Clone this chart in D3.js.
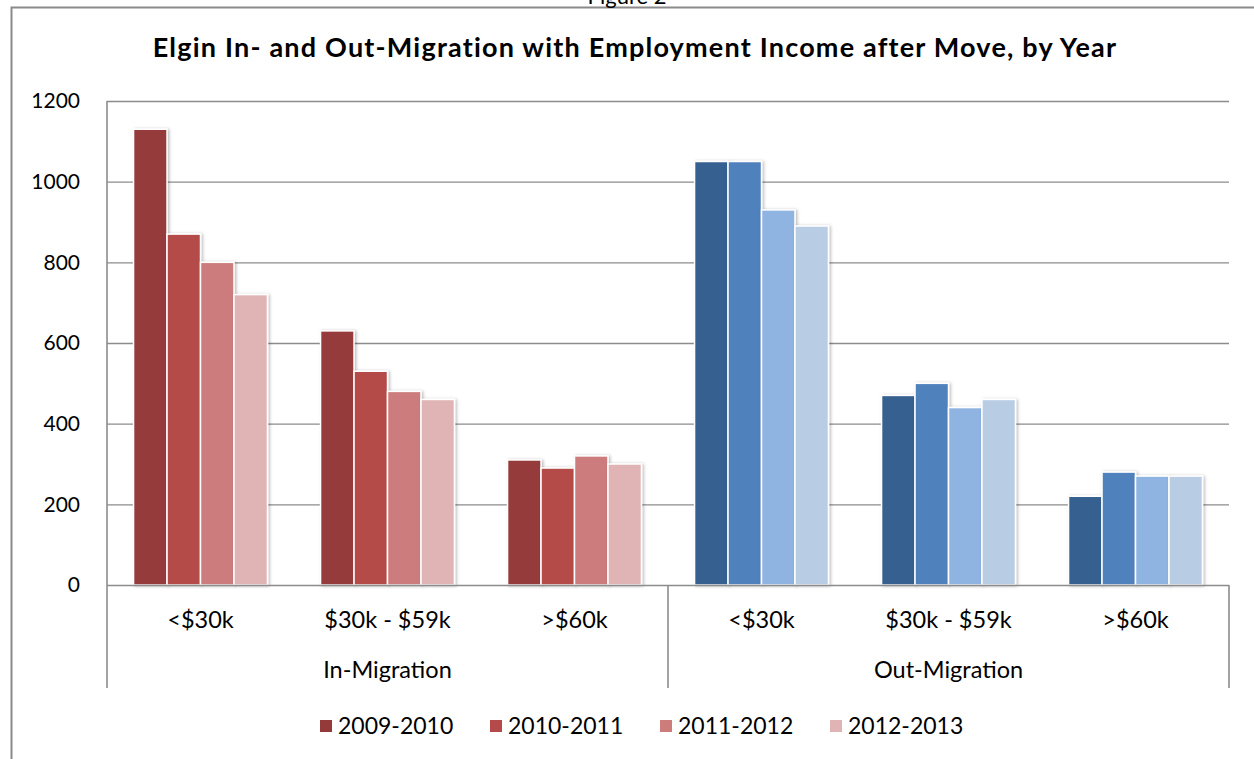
<!DOCTYPE html>
<html>
<head>
<meta charset="utf-8">
<script src="https://cdn.jsdelivr.net/npm/d3@7"></script>
<style>
  html, body { margin: 0; padding: 0; background: #fff; }
  svg { display: block; font-family: Lato, "Open Sans", sans-serif; }
</style>
</head>
<body>
<svg id="chart" width="1254" height="759"></svg>
<script>
// Income bands shown under each migration direction
const incomeBands = ["<$30k", "$30k - $59k", ">$60k"];
const directions = ["In-Migration", "Out-Migration"];
const years = ["2009-2010", "2010-2011", "2011-2012", "2012-2013"];

// Movers per year, one array per income band
const inMigration = [
  [1130, 870, 800, 720],
  [630, 530, 480, 460],
  [310, 290, 320, 300]
];
const outMigration = [
  [1050, 1050, 930, 890],
  [470, 500, 440, 460],
  [220, 280, 270, 270]
];

const yTicks = [0, 200, 400, 600, 800, 1000, 1200];

const redShades = ["#953a3a", "#b44b4a", "#cc7c7b", "#e0b4b4"];
const blueShades = ["#36618f", "#4f81bd", "#8fb4e2", "#b8cce4"];

const svg = d3.select("#chart");
const plotLeft = 107, plotRight = 1229, plotTop = 101, plotBase = 585, axisBottom = 688;

// Rows: one per direction/band pair
const rows = [];
directions.forEach((dir, di) => {
  const src = di === 0 ? inMigration : outMigration;
  incomeBands.forEach((band, bi) => {
    rows.push({ key: dir + "|" + band, dir, band, values: src[bi], colors: di === 0 ? redShades : blueShades });
  });
});

const x0 = d3.scaleBand().domain(rows.map(r => r.key)).range([plotLeft, plotRight]).padding(0);
const bw = x0.bandwidth();
const x1 = d3.scaleBand().domain(years).range([bw * 0.142, bw * 0.858]).padding(0);
const y = d3.scaleLinear().domain([0, 1200]).range([plotBase, plotTop]);

// Drop shadow behind bars
const defs = svg.append("defs");
const f = defs.append("filter").attr("id", "shadow").attr("x", "-20%").attr("y", "-10%").attr("width", "140%").attr("height", "120%");
f.append("feDropShadow").attr("dx", 1.5).attr("dy", 0.5).attr("stdDeviation", 1.8)
  .attr("flood-color", "#000").attr("flood-opacity", 0.28);

// Outer frame
svg.append("path").attr("d", `M11.5,759 V7.5 H1254`).attr("fill", "none")
  .attr("stroke", "#8a8a8a").attr("stroke-width", 2);

// Caption above the frame (runs off the top edge of the page)
svg.append("text").attr("x", 627).attr("y", 4).attr("text-anchor", "middle")
  .attr("font-size", 22).attr("fill", "#000").text("Figure 2");

// Title
svg.append("text").attr("x", 635).attr("y", 57).attr("text-anchor", "middle")
  .attr("font-size", 27).attr("font-weight", "bold").attr("letter-spacing", 1.2).attr("fill", "#000")
  .text("Elgin In- and Out-Migration with Employment Income after Move, by Year");

// Gridlines
svg.append("g").selectAll("line").data(yTicks.filter(t => t > 0)).join("line")
  .attr("x1", plotLeft).attr("x2", plotRight)
  .attr("y1", d => y(d) + 0.5).attr("y2", d => y(d) + 0.5)
  .attr("stroke", "#8c8c8c").attr("stroke-width", 1.4);

// Y tick labels
svg.append("g").selectAll("text").data(yTicks).join("text")
  .attr("x", 80).attr("y", d => y(d)).attr("dy", "0.35em")
  .attr("text-anchor", "end").attr("font-size", 21).attr("fill", "#000")
  .text(d => d);

// Bars
const groups = svg.append("g").selectAll("g").data(rows).join("g")
  .attr("transform", d => `translate(${x0(d.key)},0)`);
groups.selectAll("rect").data(d => d.values.map((v, i) => ({ v, year: years[i], color: d.colors[i] }))).join("rect")
  .attr("x", d => x1(d.year))
  .attr("y", d => y(d.v))
  .attr("width", x1.bandwidth())
  .attr("height", d => plotBase - y(d.v))
  .attr("fill", d => d.color)
  .attr("stroke", "#fff").attr("stroke-width", 1.5)
  .attr("filter", "url(#shadow)");

// Axis lines
const axis = svg.append("g").attr("stroke", "#8c8c8c").attr("stroke-width", 1.6);
axis.append("line").attr("x1", plotLeft).attr("x2", plotLeft).attr("y1", plotTop).attr("y2", axisBottom);
axis.append("line").attr("x1", plotLeft).attr("x2", plotRight).attr("y1", plotBase + 0.5).attr("y2", plotBase + 0.5);
const mid = x0(rows[3].key);
[mid, plotRight].forEach(xx => {
  axis.append("line").attr("x1", xx).attr("x2", xx).attr("y1", plotBase).attr("y2", axisBottom);
});

// Category labels
svg.append("g").selectAll("text").data(rows).join("text")
  .attr("x", d => x0(d.key) + bw / 2).attr("y", 620).attr("dy", "0.35em")
  .attr("text-anchor", "middle").attr("font-size", 23.5).attr("fill", "#000")
  .text(d => d.band);

// Direction labels
svg.append("g").selectAll("text").data(directions).join("text")
  .attr("x", (d, i) => (x0(rows[i * 3].key) + x0(rows[i * 3 + 2].key) + bw) / 2)
  .attr("y", 670).attr("dy", "0.35em")
  .attr("text-anchor", "middle").attr("font-size", 23.5).attr("fill", "#000")
  .text(d => d);

// Legend
const legend = svg.append("g").selectAll("g").data(years).join("g")
  .attr("transform", (d, i) => `translate(${320 + i * 170},726)`);
legend.append("rect").attr("x", 0).attr("y", -6).attr("width", 12).attr("height", 12)
  .attr("fill", (d, i) => redShades[i]);
legend.append("text").attr("x", 18).attr("y", 0).attr("dy", "0.35em")
  .attr("font-size", 23).attr("fill", "#000").text(d => d);
</script>
</body>
</html>
